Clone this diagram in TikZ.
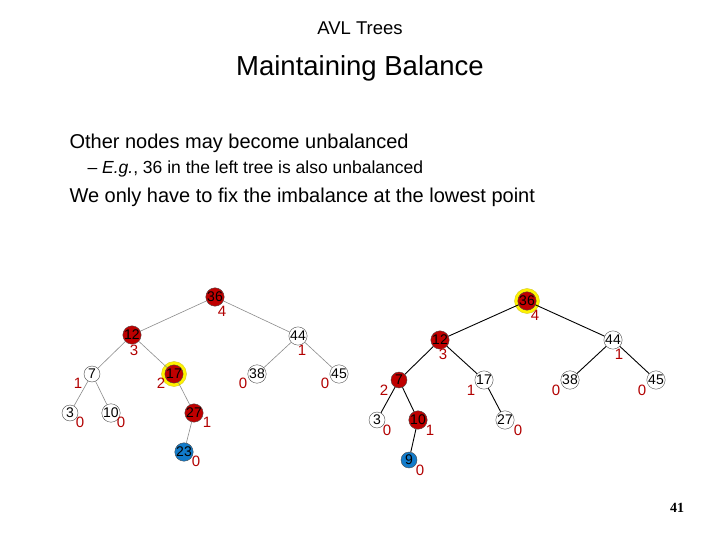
\documentclass[tikz,border=0pt]{standalone}
\usepackage{fontspec}
\setmainfont{Liberation Sans}
\newfontfamily\seriff{Liberation Serif}
\begin{document}
\begin{tikzpicture}[x=1pt,y=-1pt,
  nd/.style={circle,draw=black!70,fill=white,minimum size=16pt,inner sep=0pt,font=\fontsize{14}{14}\selectfont},
  rd/.style={nd,fill=red!75!black},
  bl/.style={nd,fill=cyan!60!blue},
  hl/.style={circle,fill=yellow,draw=yellow!80!black,minimum size=25pt,inner sep=0pt},
  bf/.style={text=red!70!black,font=\fontsize{15}{15}\selectfont,inner sep=0pt},
  le/.style={draw=black!45,line width=0.6pt},
  re/.style={draw=black,line width=0.9pt}]
\useasboundingbox[fill=white] (0,0) rectangle (720,540);
\node (t1) at (360,28) {\fontsize{18.5}{20}\selectfont AVL Trees};
\node (t2) at (360,68) {\fontsize{27.5}{30}\selectfont Maintaining Balance};
\node[anchor=west] (b1) at (66,143) {\fontsize{20}{24}\selectfont Other nodes may become unbalanced};
\node[anchor=west] (b2) at (84,169) {\fontsize{17.5}{20}\selectfont – \textit{E.g.}, 36 in the left tree is also unbalanced};
\node[anchor=west] (b3) at (66,197) {\fontsize{20}{24}\selectfont We only have to fix the imbalance at the lowest point};
\node (pg) at (677,508) {\seriff\fontsize{14}{16}\selectfont\bfseries 41};
% left tree
\node[hl] (h17) at (174,374) {};
\node[rd] (a36) at (215,297) {36};
\node[rd] (a12) at (132,335) {12};
\node[nd] (a44) at (298,336) {44};
\node[nd] (a7) at (92,374) {7};
\node[rd] (a17) at (174,374) {17};
\node[nd] (a38) at (257,374) {38};
\node[nd] (a45) at (339,374) {45};
\node[nd] (a3) at (70,413) {3};
\node[nd] (a10) at (111,413) {10};
\node[rd] (a27) at (194,413) {27};
\node[bl] (a23) at (184,452) {23};
\draw[le] (a36)--(a12) (a36)--(a44) (a12)--(a7) (a12)--(a17) (a44)--(a38) (a44)--(a45)
  (a7)--(a3) (a7)--(a10) (a17)--(a27) (a27)--(a23);
\node[bf] (l1) at (222,311) {4};
\node[bf] (l2) at (134,350) {3};
\node[bf] (l3) at (302,350) {1};
\node[bf] (l4) at (78,383) {1};
\node[bf] (l5) at (161,383) {2};
\node[bf] (l6) at (243,383) {0};
\node[bf] (l7) at (325,383) {0};
\node[bf] (l8) at (80,422) {0};
\node[bf] (l9) at (121,422) {0};
\node[bf] (l10) at (207,422) {1};
\node[bf] (l11) at (196,461) {0};
% right tree
\node[hl] (h36) at (527,301) {};
\node[rd] (b36) at (527,301) {36};
\node[rd] (b12) at (440,340) {12};
\node[nd] (b44) at (613,340) {44};
\node[rd] (b7) at (399,380) {7};
\node[nd] (b17) at (484,380) {17};
\node[nd] (b38) at (570,380) {38};
\node[nd] (b45) at (656,380) {45};
\node[nd] (b3) at (377,420) {3};
\node[rd] (b10) at (418,420) {10};
\node[nd] (b27) at (505,420) {27};
\node[bl] (b9) at (409,460) {9};
\draw[re] (b36)--(b12) (b36)--(b44) (b12)--(b7) (b12)--(b17) (b44)--(b38) (b44)--(b45)
  (b7)--(b3) (b7)--(b10) (b17)--(b27) (b10)--(b9);
\node[bf] (m1) at (535,315) {4};
\node[bf] (m2) at (443,354) {3};
\node[bf] (m3) at (619,354) {1};
\node[bf] (m4) at (384,390) {2};
\node[bf] (m5) at (471,390) {1};
\node[bf] (m6) at (556,390) {0};
\node[bf] (m7) at (642,390) {0};
\node[bf] (m8) at (387,430) {0};
\node[bf] (m9) at (430,430) {1};
\node[bf] (m10) at (518,430) {0};
\node[bf] (m11) at (420,470) {0};
\end{tikzpicture}
\end{document}
